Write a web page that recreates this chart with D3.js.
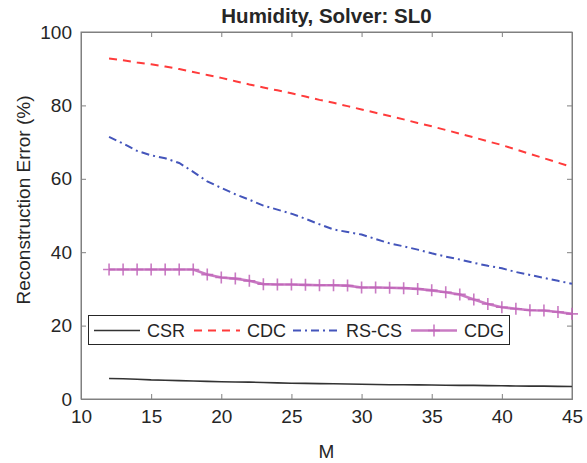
<!DOCTYPE html>
<html>
<head>
<meta charset="utf-8">
<script src="https://cdn.jsdelivr.net/npm/d3@7"></script>
<style>
  body { margin: 0; background: #fff; }
  text { font-family: "Liberation Sans", Arial, sans-serif; fill: #262626; }
</style>
</head>
<body>
<div id="chart"></div>
<script>
// data
const M = [12,13,14,15,16,17,18,19,20,21,22,23,24,25,26,27,28,29,30,31,32,33,34,35,36,37,38,39,40,41,42,43,44,45];
const csr = [5.6,5.5,5.4,5.2,5.1,5.0,4.9,4.8,4.7,4.65,4.6,4.5,4.4,4.3,4.25,4.2,4.15,4.1,4.0,3.95,3.9,3.9,3.85,3.8,3.75,3.7,3.7,3.65,3.6,3.55,3.5,3.5,3.45,3.4];
const cdc = [92.8,92.3,91.7,91.2,90.6,89.9,89.1,88.3,87.5,86.6,85.7,84.9,84.1,83.3,82.4,81.5,80.7,79.8,78.9,78.0,77.1,76.2,75.2,74.3,73.3,72.3,71.3,70.2,69.2,68.0,66.8,65.6,64.4,63.2];
const rscs = [71.4,69.6,67.6,66.4,65.6,64.3,61.9,59.3,57.5,55.8,54.3,52.7,51.6,50.5,49.1,47.6,46.2,45.5,44.8,43.6,42.4,41.6,40.7,39.7,38.8,38.0,37.1,36.3,35.6,34.6,33.8,33.0,32.2,31.4];
const cdg = [35.3,35.3,35.3,35.3,35.3,35.3,35.3,33.9,33.1,32.8,32.2,31.3,31.2,31.2,31.1,31.0,31.0,30.9,30.4,30.4,30.3,30.2,30.0,29.6,29.1,28.5,27.1,25.9,25.0,24.6,24.2,24.1,23.7,23.2];
const xTicks = [10,15,20,25,30,35,40,45];
const yTicks = [0,20,40,60,80,100];

const series = [
  {name: "CSR",   values: csr,  color: "#333333", width: 1.6, dash: null},
  {name: "CDC",   values: cdc,  color: "#ff3b3b", width: 2,   dash: "8,6"},
  {name: "RS-CS", values: rscs, color: "#4455bb", width: 2,   dash: "8,4,2,4"},
  {name: "CDG",   values: cdg,  color: "#c064b8", width: 2.6, dash: null, marker: true}
];

const W = 587, H = 463;
const margin = {top: 32, right: 15, bottom: 64, left: 81};
const width = W - margin.left - margin.right,
      height = H - margin.top - margin.bottom;

const svg = d3.select("#chart")
  .append("svg")
    .attr("width", W)
    .attr("height", H);

const g = svg.append("g")
  .attr("transform", `translate(${margin.left},${margin.top})`);

const x = d3.scaleLinear().domain([10, 45]).range([0, width]);
const y = d3.scaleLinear().domain([0, 100]).range([height, 0]);

// box
g.append("rect")
  .attr("width", width).attr("height", height)
  .attr("fill", "none").attr("stroke", "#808080").attr("stroke-width", 1);

// X axis (bottom + top ticks)
g.append("g")
  .attr("transform", `translate(0,${height})`)
  .call(d3.axisBottom(x).tickValues(xTicks).tickSize(-5).tickPadding(11));
g.append("g")
  .call(d3.axisTop(x).tickValues(xTicks).tickSize(-5).tickFormat(""));
// Y axis (left + right ticks)
g.append("g")
  .call(d3.axisLeft(y).tickValues(yTicks).tickSize(-5).tickPadding(9));
g.append("g")
  .attr("transform", `translate(${width},0)`)
  .call(d3.axisRight(y).tickValues(yTicks).tickSize(-5).tickFormat(""));

g.selectAll(".domain").attr("stroke", "#808080");
g.selectAll(".tick line").attr("stroke", "#808080");
g.selectAll(".tick text")
  .style("font-family", "'Liberation Sans', Arial, sans-serif")
  .style("font-size", "19px")
  .attr("fill", "#262626");

// lines
const line = d3.line().x((d, i) => x(M[i])).y(d => y(d));

series.forEach(s => {
  g.append("path")
    .datum(s.values)
    .attr("fill", "none")
    .attr("stroke", s.color)
    .attr("stroke-width", s.width)
    .attr("stroke-opacity", s.marker ? 0.85 : 1)
    .attr("stroke-dasharray", s.dash)
    .attr("d", line);
  if (s.marker) {
    g.selectAll(".mk")
      .data(s.values)
      .join("path")
        .attr("class", "mk")
        .attr("fill", "none")
        .attr("stroke", s.color)
        .attr("stroke-opacity", 0.85)
        .attr("stroke-width", 1.6)
        .attr("d", (d, i) => {
          const cx = x(M[i]), cy = y(d), r = 6;
          return `M${cx - r},${cy}H${cx + r}M${cx},${cy - r}V${cy + r}`;
        });
  }
});

// title and axis labels
svg.append("text")
  .attr("x", margin.left + width / 2)
  .attr("y", 23)
  .attr("text-anchor", "middle")
  .style("font-size", "20.5px")
  .style("font-weight", "bold")
  .text("Humidity, Solver: SL0");

svg.append("text")
  .attr("x", margin.left + width / 2)
  .attr("y", 458)
  .attr("text-anchor", "middle")
  .style("font-size", "19px")
  .text("M");

svg.append("text")
  .attr("transform", "translate(30,200) rotate(-90)")
  .attr("text-anchor", "middle")
  .style("font-size", "19px")
  .text("Reconstruction Error (%)");

// legend
const legend = svg.append("g");
legend.append("rect")
  .attr("x", 88.5).attr("y", 315.5)
  .attr("width", 421).attr("height", 29)
  .attr("fill", "#fff").attr("stroke", "#262626").attr("stroke-width", 1);

const legendX = [94, 194, 293, 411];
const ly = 330.5;
series.forEach((s, i) => {
  const lx = legendX[i];
  legend.append("line")
    .attr("x1", lx).attr("x2", lx + 46)
    .attr("y1", ly).attr("y2", ly)
    .attr("stroke", s.color)
    .attr("stroke-width", s.width)
    .attr("stroke-opacity", s.marker ? 0.85 : 1)
    .attr("stroke-dasharray", s.dash);
  if (s.marker) {
    legend.append("path")
      .attr("fill", "none")
      .attr("stroke", s.color)
      .attr("stroke-opacity", 0.85)
      .attr("stroke-width", 1.6)
      .attr("d", `M${lx + 17},${ly}H${lx + 29}M${lx + 23},${ly - 6}V${ly + 6}`);
  }
  legend.append("text")
    .attr("x", lx + 53)
    .attr("y", ly + 6.5)
    .style("font-size", "18px")
    .text(s.name);
});
</script>
</body>
</html>
